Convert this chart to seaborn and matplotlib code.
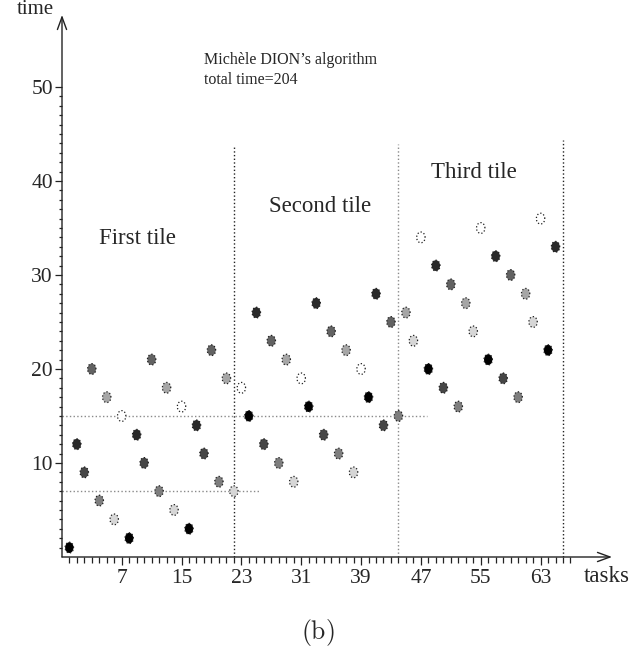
import numpy as np
import pandas as pd
import matplotlib
matplotlib.use("Agg")
import matplotlib.pyplot as plt
from matplotlib.path import Path
import seaborn as sns

# ---------------- data ----------------
tasks = [0, 1, 2, 3, 4, 5, 6, 7,
         8, 9, 10, 11, 12, 13, 14, 15,
         16, 17, 18, 19, 20, 21, 22, 23,
         24, 25, 26, 27, 28, 29, 30, 31,
         32, 33, 34, 35, 36, 37, 38, 39,
         40, 41, 42, 43, 44, 45, 46, 47,
         48, 49, 50, 51, 52, 53, 54, 55,
         56, 57, 58, 59, 60, 61, 62, 63,
         64, 65]
times = [1, 12, 9, 20, 6, 17, 4, 15,
         2, 13, 10, 21, 7, 18, 5, 16,
         3, 14, 11, 22, 8, 19, 7, 18,
         15, 26, 12, 23, 10, 21, 8, 19,
         16, 27, 13, 24, 11, 22, 9, 20,
         17, 28, 14, 25, 15, 26, 23, 34,
         20, 31, 18, 29, 16, 27, 24, 35,
         21, 32, 19, 30, 17, 28, 25, 36,
         22, 33]
slot_count = 8
slots = [t % slot_count for t in tasks]

tile_names = ["First tile", "Second tile", "Third tile"]
tile_bounds = [22, 44, 66]
tile_bound_tops = [43.7, 43.9, 44.4]
level_times = [7, 15]
level_ends = [25.3, 47.8]
x_major = [7, 15, 23, 31, 39, 47, 55, 63]
y_major = [10, 20, 30, 40, 50]
title_lines = ["Michèle DION\u2019s algorithm", "total time=204"]

# ---------------- style ----------------
sns.set_style("ticks")
plt.rcParams["font.family"] = ["Liberation Serif", "DejaVu Serif"]
plt.rcParams["mathtext.fontset"] = "cm"

W, H = 638, 660
fig = plt.figure(figsize=(W / 100, H / 100), dpi=100)
ax = fig.add_axes([62 / W, 103 / H, 550 / W, 542 / H])


def px(x, y):
    return x / W, 1 - y / H


df = pd.DataFrame({"task": tasks, "time": times, "slot": slots})
shades = ["#000000", "#2a2a2a", "#464646", "#626262",
          "#7e7e7e", "#a6a6a6", "#d6d6d6", "#ffffff"]
palette = {i: shades[i] for i in range(slot_count)}

theta = np.linspace(0, 2 * np.pi, 41)
ellipse = Path(np.column_stack([0.78 * np.cos(theta), np.sin(theta)]), closed=True)

# reference lines
line_cols = ["#222222", "#8a8a8a", "#222222"]
for xb, top, c in zip(tile_bounds, tile_bound_tops, line_cols):
    ax.vlines(xb, 0, top, colors=c, linestyles=":", linewidth=1.0, zorder=1)
ax.hlines(level_times, -0.98, level_ends, colors="#8a8a8a",
          linestyles=":", linewidth=1.0, zorder=1)

sns.scatterplot(data=df, x="task", y="time", hue="slot", palette=palette,
                hue_order=list(range(slot_count)), legend=False,
                marker=ellipse, s=60, edgecolor="#1e1e1e", linewidth=0.9,
                linestyle=":", ax=ax, zorder=3)

ax.set_xlim(-0.98, 72.55)
ax.set_ylim(0, 57.66)
ax.set_xlabel("")
ax.set_ylabel("")

ax.set_xticks(x_major)
ax.set_xticklabels([str(v) for v in x_major])
ax.set_xticks(list(range(0, 68)), minor=True)
ax.set_yticks(y_major)
ax.set_yticklabels([str(v) for v in y_major])
ax.set_yticks(list(range(1, 51)), minor=True)

ax.tick_params(axis="both", which="both", direction="out", color="#222222",
               width=0.9, bottom=True, left=True)
ax.tick_params(axis="x", which="major", length=6, pad=2.5, labelsize=15.5)
ax.tick_params(axis="x", which="minor", length=4)
ax.tick_params(axis="y", which="major", length=5, pad=1.5, labelsize=15.5)
ax.tick_params(axis="y", which="minor", length=2.5)

for s in ax.spines.values():
    s.set_visible(False)

arrow = dict(arrowstyle="->,head_length=0.9,head_width=0.33", lw=1.0,
             color="#222222", shrinkA=0, shrinkB=0)
ax.annotate("", xy=(1, 0), xytext=(0, 0), xycoords="axes fraction",
            textcoords="axes fraction", arrowprops=arrow, annotation_clip=False)
ax.annotate("", xy=(0, 1), xytext=(0, 0), xycoords="axes fraction",
            textcoords="axes fraction", arrowprops=arrow, annotation_clip=False)

# labels
fig.text(*px(35, 10), "time", ha="center", va="center", fontsize=15)
fig.text(*px(584, 577), "tasks", ha="left", va="center", fontsize=16.5)

tile_pos = [(137, 239), (320, 206), (474, 172)]
for name, (x, y) in zip(tile_names, tile_pos):
    fig.text(*px(x, y), name, ha="center", va="center", fontsize=16.5)

fig.text(*px(204, 60), title_lines[0], ha="left", va="center", fontsize=11.5)
fig.text(*px(204, 80), title_lines[1], ha="left", va="center", fontsize=11.5)

fig.text(*px(318, 632), r"$\mathrm{(b)}$", ha="center", va="center", fontsize=18.5)

fig.savefig("out.png", dpi=100)
